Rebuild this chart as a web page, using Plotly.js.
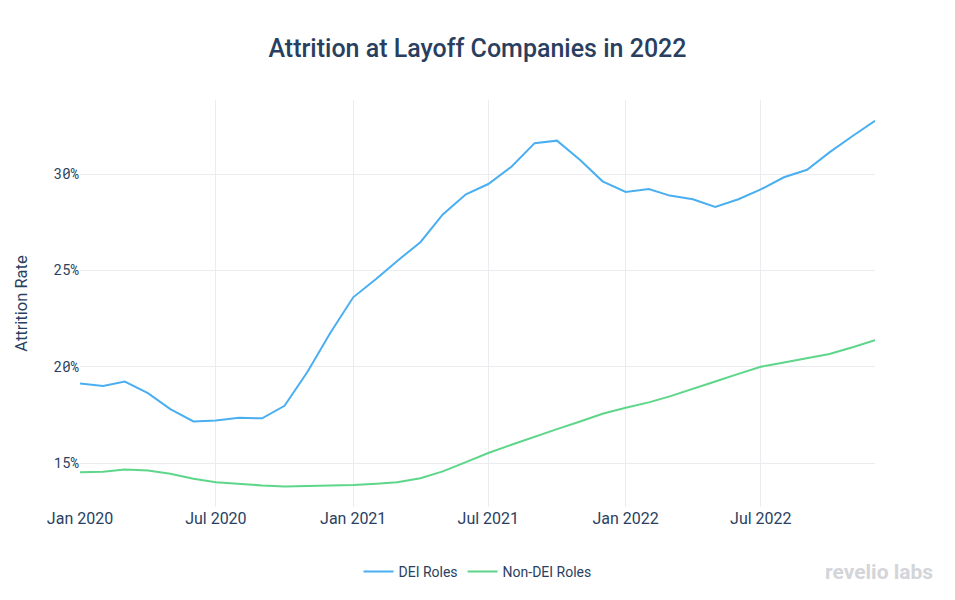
<!DOCTYPE html>
<html>
<head>
<meta charset="utf-8">
<script src="https://cdn.plot.ly/plotly-3.0.1.min.js"></script>
<style>html,body{margin:0;padding:0;background:#fff;}#chart{width:955px;height:600px;}</style>
</head>
<body>
<div id="chart"></div>
<script>
const months = [
  "2020-01-01","2020-02-01","2020-03-01","2020-04-01","2020-05-01","2020-06-01",
  "2020-07-01","2020-08-01","2020-09-01","2020-10-01","2020-11-01","2020-12-01",
  "2021-01-01","2021-02-01","2021-03-01","2021-04-01","2021-05-01","2021-06-01",
  "2021-07-01","2021-08-01","2021-09-01","2021-10-01","2021-11-01","2021-12-01",
  "2022-01-01","2022-02-01","2022-03-01","2022-04-01","2022-05-01","2022-06-01",
  "2022-07-01","2022-08-01","2022-09-01","2022-10-01","2022-11-01","2022-12-01"
];
const deiRoles = [
  19.13, 19.00, 19.23, 18.63, 17.80, 17.16,
  17.21, 17.35, 17.32, 17.97, 19.75, 21.74,
  23.60, 24.56, 25.49, 26.46, 27.90, 28.95,
  29.48, 30.38, 31.60, 31.73, 30.73, 29.62,
  29.07, 29.22, 28.88, 28.69, 28.29, 28.69,
  29.20, 29.83, 30.22, 31.12, 31.97, 32.76
];
const nonDeiRoles = [
  14.52, 14.55, 14.66, 14.62, 14.45, 14.19,
  14.00, 13.91, 13.84, 13.79, 13.81, 13.81,
  13.86, 13.93, 14.00, 14.21, 14.57, 15.05,
  15.52, 15.95, 16.38, 16.76, 17.16, 17.56,
  17.87, 18.15, 18.46, 18.84, 19.23, 19.63,
  20.00, 20.22, 20.45, 20.66, 21.01, 21.38
];
const seriesNames = ["DEI Roles", "Non-DEI Roles"];
const yTickVals = [15, 20, 25, 30];
const yTickText = ["15%", "20%", "25%", "30%"];

const textColor = "#2a3f5f";
const traces = [
  {x: months, y: deiRoles, name: seriesNames[0], type: "scatter", mode: "lines",
   line: {color: "#4aaff0", width: 2}},
  {x: months, y: nonDeiRoles, name: seriesNames[1], type: "scatter", mode: "lines",
   line: {color: "#5dd68a", width: 2}}
];
const layout = {
  width: 955, height: 600,
  margin: {l: 80, r: 80, t: 100, b: 93, autoexpand: false},
  paper_bgcolor: "#fff", plot_bgcolor: "#fff",
  font: {family: "Roboto, 'Open Sans', sans-serif", color: textColor},
  title: {text: "Attrition at Layoff Companies in 2022", x: 0.5, xanchor: "center",
          y: 0.92, yanchor: "middle",
          font: {size: 25, color: textColor, family: "Roboto, sans-serif", weight: 500}},
  xaxis: {
    type: "date", range: ["2020-01-01", "2022-12-01"],
    dtick: "M6", tick0: "2020-01-01", tickformat: "%b %Y",
    showgrid: true, gridcolor: "#ebebf0", zeroline: false, showline: false,
    tickfont: {size: 16, color: textColor}, ticks: "", automargin: false
  },
  yaxis: {
    range: [12.72, 33.84], tickvals: yTickVals, ticktext: yTickText,
    showgrid: true, gridcolor: "#ebebf0", zeroline: false, showline: false,
    tickfont: {size: 14, color: textColor, family: "'Roboto Mono', 'DejaVu Sans Mono', monospace"},
    ticklabelstandoff: 0, automargin: false,
    title: {text: "Attrition Rate", font: {size: 16.5, color: textColor}, standoff: 22}
  },
  legend: {orientation: "h", x: 0.5, xanchor: "center", y: -0.12, yanchor: "top",
           font: {size: 14, color: textColor}},
  annotations: [{
    text: "revelio labs", xref: "paper", yref: "paper", x: 1.075, y: -0.16,
    xanchor: "right", yanchor: "middle", showarrow: false,
    font: {size: 21, color: "#d3d5d9", family: "Roboto, sans-serif", weight: 700}
  }]
};
Plotly.newPlot("chart", traces, layout, {displayModeBar: false});
</script>
</body>
</html>
